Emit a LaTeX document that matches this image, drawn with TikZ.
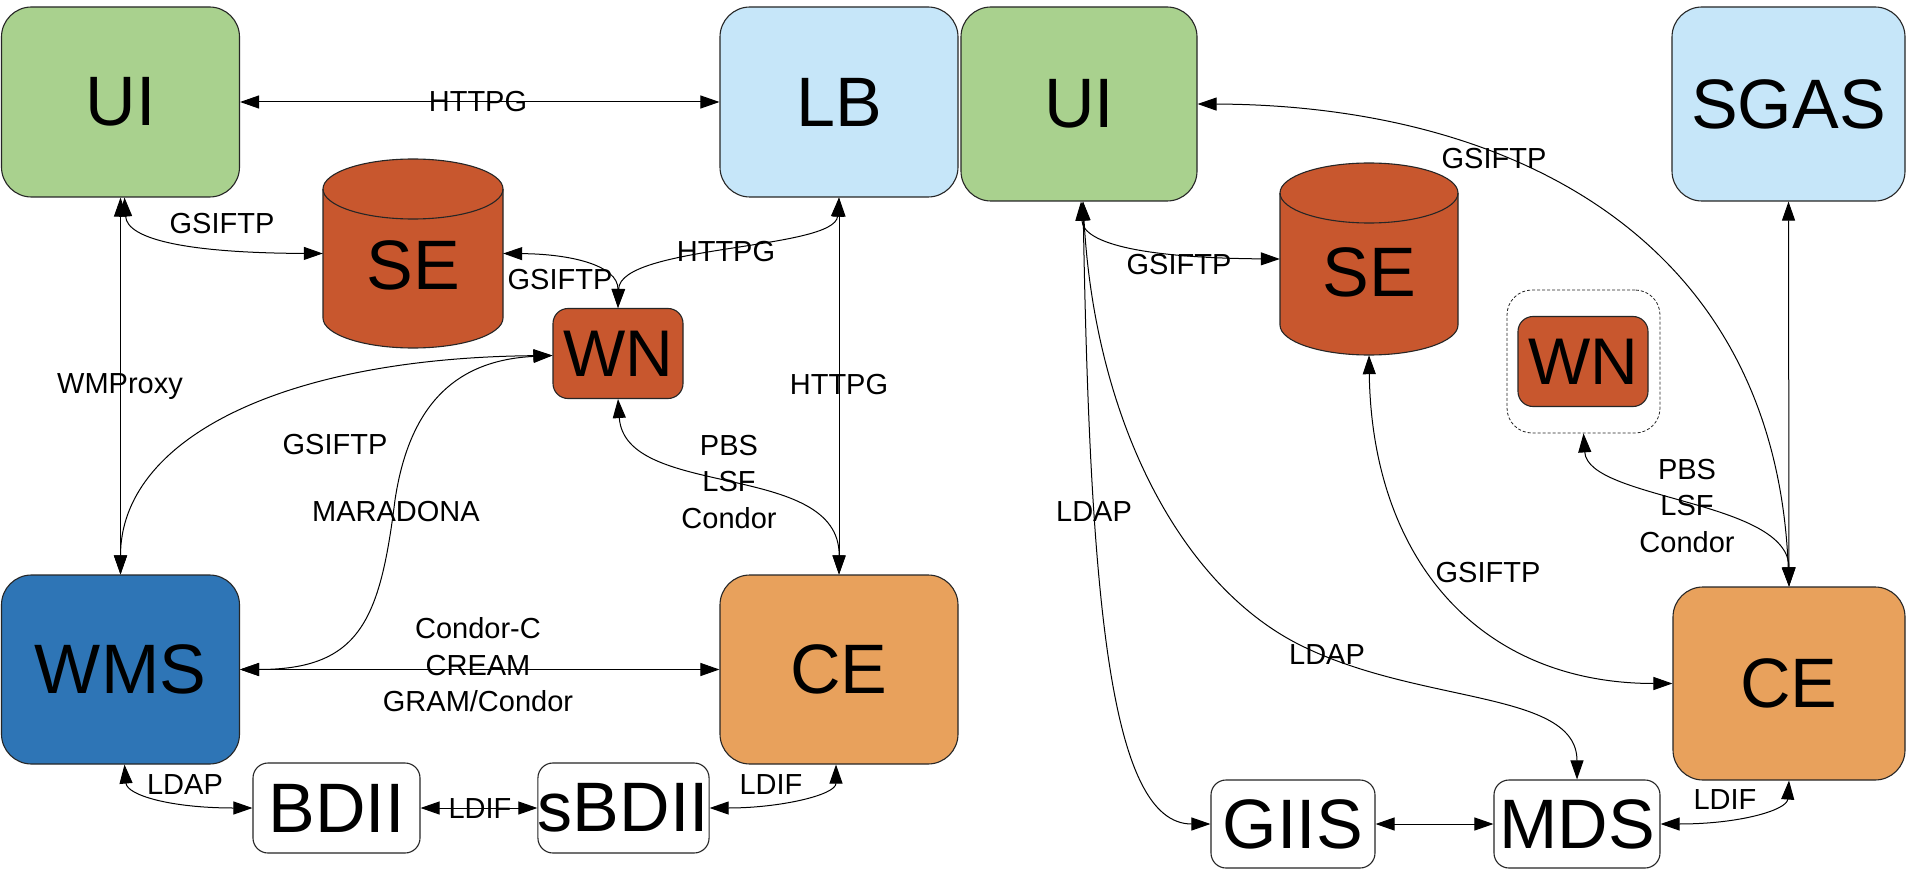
\documentclass[tikz,border=0pt]{standalone}
\usepackage{fontspec}
\setmainfont{Liberation Sans}
\usetikzlibrary{arrows.meta}
\definecolor{cgreen}{RGB}{169,209,142}
\definecolor{cblue}{RGB}{198,230,249}
\definecolor{cdblue}{RGB}{46,117,182}
\definecolor{cred}{RGB}{200,87,46}
\definecolor{corange}{RGB}{232,161,92}
\begin{document}
\begin{tikzpicture}[x=1pt,y=-1pt,
 nd/.style={draw=black!85, line width=1.1pt, inner sep=0pt, font=\fontsize{70}{80}\selectfont},
 bigbox/.style={nd, rounded corners=30pt},
 smallbox/.style={nd, rounded corners=15pt, fill=white},
 wnbox/.style={nd, rounded corners=15pt, fill=cred, minimum width=130pt, minimum height=90pt, font=\fontsize{66}{70}\selectfont},
 bigtxt/.style={inner sep=0pt, font=\fontsize{70}{80}\selectfont},
 cyl/.style={draw=black!85, line width=1.1pt, fill=cred},
 lbl/.style={font=\fontsize{29}{36.5}\selectfont, align=center, inner sep=0pt},
 conn/.style={line width=1pt, {Triangle[length=19pt,width=13pt]}-{Triangle[length=19pt,width=13pt]}},
]
\fill[white] (0,0) rectangle (1907,869);
\useasboundingbox (0,0) rectangle (1907,869);

% ---------- left part ----------
\node[bigbox, fill=cgreen, minimum width=238pt, minimum height=190pt] (UIL) at (120.5,102) {UI};
\node[bigbox, fill=cblue, minimum width=238pt, minimum height=190pt] (LB) at (839,102) {LB};
\node[bigbox, fill=cdblue, minimum width=238pt, minimum height=189pt] (WMS) at (120.5,669.5) {WMS};
\node[bigbox, fill=corange, minimum width=238pt, minimum height=189pt] (CEL) at (839,669.5) {CE};
\node[wnbox] (WNL) at (618,353.5) {WN};
\node[smallbox, minimum width=167pt, minimum height=90pt] (BDII) at (336.5,808) {BDII};
\node[smallbox, minimum width=167pt, minimum height=90pt] (sBDII) at (623.5,808) {sBDII};

\filldraw[cyl] (323,189) -- (323,318) arc[start angle=180,end angle=0,x radius=90,y radius=30]
  -- (503,189) arc[start angle=0,end angle=-180,x radius=90,y radius=30] -- cycle;
\draw[cyl, fill=none] (323,189) arc[start angle=180,end angle=0,x radius=90,y radius=30];
\node[inner sep=0pt, minimum width=180pt, minimum height=189pt] (SEL) at (413,253.5) {};
\node[bigtxt] (SELt) at (413,265) {SE};

% ---------- right part ----------
\node[bigbox, fill=cgreen, minimum width=236pt, minimum height=194pt] (UIR) at (1079,104) {UI};
\node[bigbox, fill=cblue, minimum width=233pt, minimum height=194pt] (SGAS) at (1788.5,104) {SGAS};
\node[draw=black!85, densely dashed, line width=0.8pt, rounded corners=25pt, minimum width=153pt, minimum height=143pt, inner sep=0pt] (WNbox) at (1583.5,361.5) {};
\node[wnbox] (WNR) at (1583,361.5) {WN};
\node[bigbox, fill=corange, minimum width=232pt, minimum height=193pt] (CER) at (1789,683.5) {CE};
\node[smallbox, minimum width=164pt, minimum height=88pt] (GIIS) at (1293,824) {GIIS};
\node[smallbox, minimum width=166pt, minimum height=88pt] (MDS) at (1577,824) {MDS};

\filldraw[cyl] (1280,193) -- (1280,325) arc[start angle=180,end angle=0,x radius=89,y radius=30]
  -- (1458,193) arc[start angle=0,end angle=-180,x radius=89,y radius=30] -- cycle;
\draw[cyl, fill=none] (1280,193) arc[start angle=180,end angle=0,x radius=89,y radius=30];
\node[inner sep=0pt, minimum width=178pt, minimum height=192pt] (SER) at (1369,259) {};
\node[bigtxt] (SERt) at (1369,272) {SE};

% ---------- left connectors ----------
\draw[conn] (UIL) -- (LB);
\draw[conn] (UIL) -- (WMS);
\draw[conn] (LB) -- (CEL);
\draw[conn] (WMS) -- (CEL);
\draw[conn] (BDII) -- (sBDII);
\draw[conn] ([xshift=4pt]UIL.south) .. controls (127,240) and (190,253) .. (SEL.west);
\draw[conn] (SEL.east) .. controls (570,254) and (618,265) .. (WNL.north);
\draw[conn] (LB.south) .. controls (835,250) and (620,245) .. (WNL.north);
\draw[conn] ([yshift=-2pt]WNL.west) .. controls (280,358) and (120.5,440) .. (WMS.north);
\draw[conn] ([yshift=-2pt]WNL.west) .. controls (460,360) and (410,400) .. (395,500)
  .. controls (380,620) and (360,669.5) .. (WMS.east);
\draw[conn] (WNL.south) .. controls (625,500) and (840,460) .. (CEL.north);
\draw[conn] ([xshift=4pt]WMS.south) .. controls (127,795) and (170,808) .. (BDII.west);
\draw[conn] (sBDII.east) .. controls (780,808) and (836,795) .. ([xshift=-3pt]CEL.south);

% ---------- right connectors ----------
\draw[conn] (UIR.east) .. controls (1500,105) and (1775,230) .. (CER.north);
\draw[conn] (SGAS.south) -- (CER.north);
\draw[conn] ([xshift=2pt]UIR.south) .. controls (1083,245) and (1150,258) .. (SER.west);
\draw[conn] ([xshift=4pt]UIR.south) .. controls (1090,600) and (1110,824) .. (GIIS.west);
\draw[conn] ([xshift=4pt]UIR.south) .. controls (1095,420) and (1180,585) .. (1300,645)
  .. controls (1420,705) and (1577,690) .. (MDS.north);
\draw[conn] (SER.south) .. controls (1372,560) and (1480,683.5) .. (CER.west);
\draw[conn] (WNbox.south) .. controls (1588,500) and (1789,500) .. (CER.north);
\draw[conn] (GIIS) -- (MDS);
\draw[conn] (MDS.east) .. controls (1740,824) and (1787,810) .. (CER.south);

% ---------- labels ----------
\node[lbl] (l1) at (478,102) {HTTPG};
\node[lbl] (l2) at (120,387) {WMProxy};
\node[lbl] (l3) at (222,224) {GSIFTP};
\node[lbl] (l4) at (560,280) {GSIFTP};
\node[lbl] (l5) at (726,252) {HTTPG};
\node[lbl] (l6) at (839,385) {HTTPG};
\node[lbl] (l7) at (335,445) {GSIFTP};
\node[lbl] (l8) at (396,512) {MARADONA};
\node[lbl] (l9) at (729,482) {PBS\\LSF\\Condor};
\node[lbl] (l10) at (478,665) {Condor-C\\CREAM\\GRAM/Condor};
\node[lbl] (l11) at (185,785) {LDAP};
\node[lbl] (l12) at (480,809) {LDIF};
\node[lbl] (l13) at (771,785) {LDIF};
\node[lbl] (r1) at (1494,159) {GSIFTP};
\node[lbl] (r2) at (1179,265) {GSIFTP};
\node[lbl] (r3) at (1094,512) {LDAP};
\node[lbl] (r4) at (1327,655) {LDAP};
\node[lbl] (r5) at (1488,573) {GSIFTP};
\node[lbl] (r6) at (1687,506) {PBS\\LSF\\Condor};
\node[lbl] (r7) at (1725,800) {LDIF};
\end{tikzpicture}
\end{document}
